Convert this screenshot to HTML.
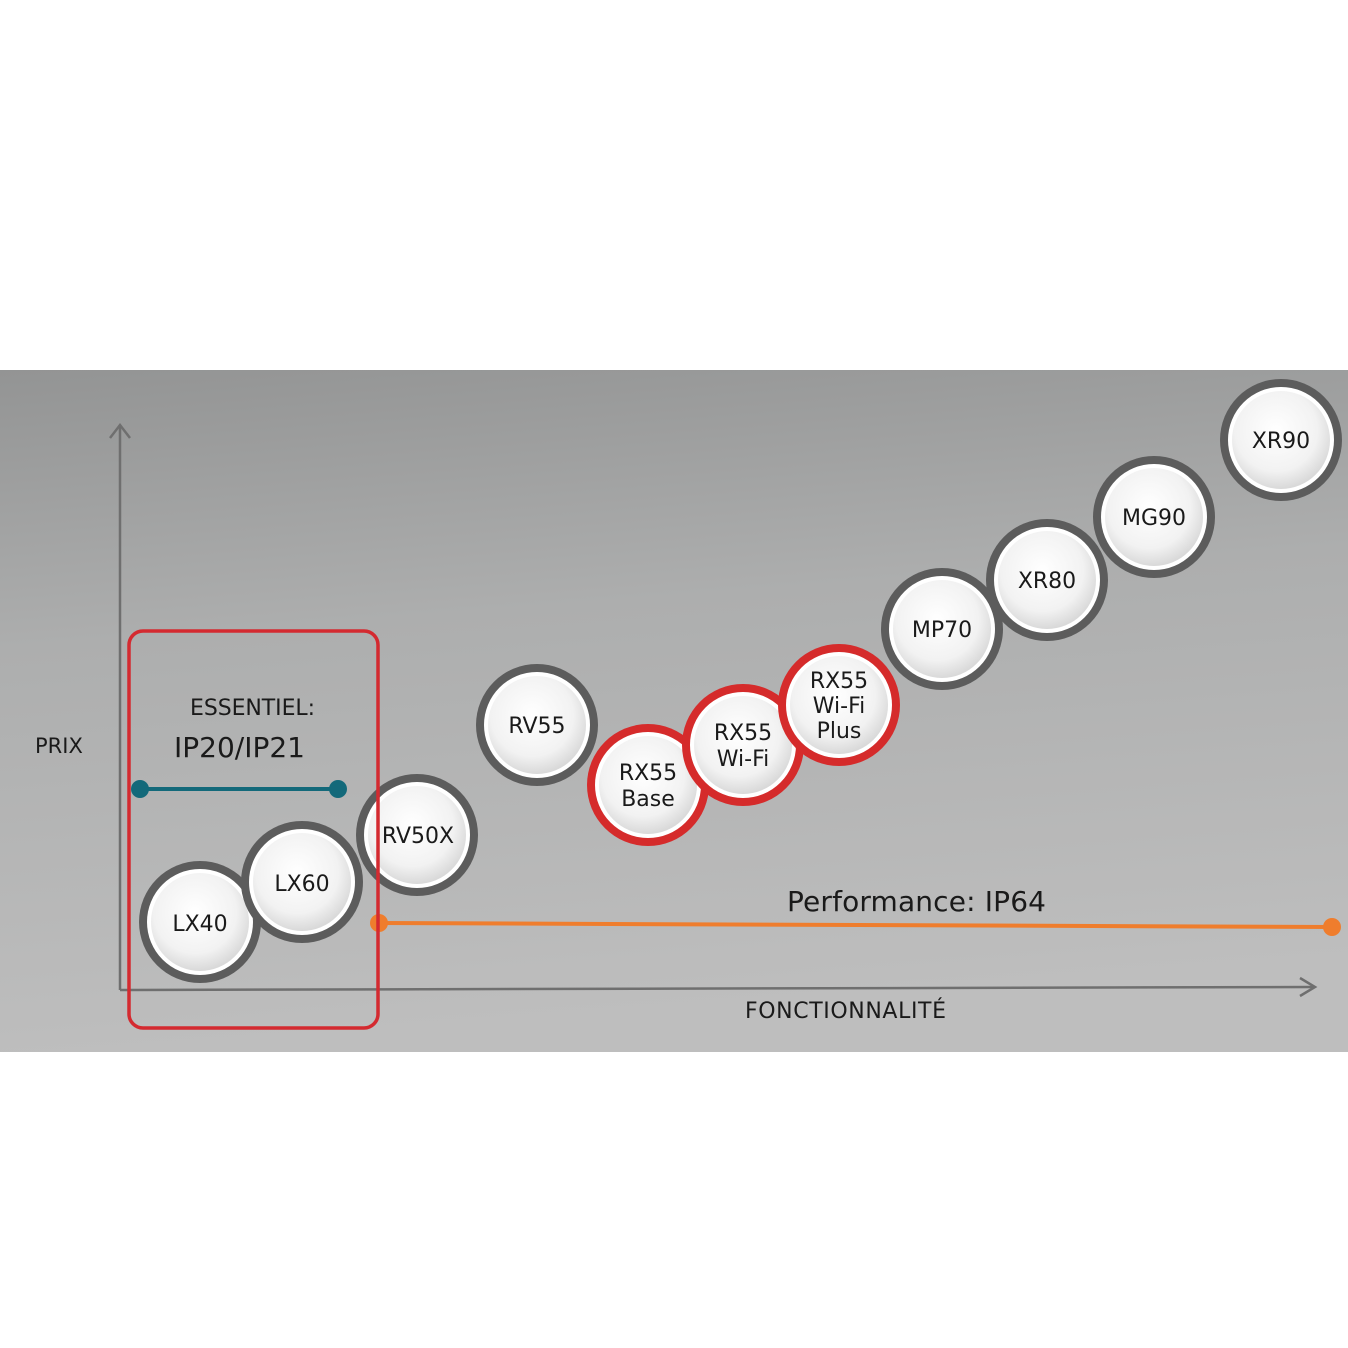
<!DOCTYPE html>
<html><head><meta charset="utf-8"><style>
html,body{margin:0;padding:0;background:#fff;}
svg{display:block;}
text{font-family:"DejaVu Sans","Liberation Sans",sans-serif;fill:#1a1a1a;}
</style></head><body>
<svg width="1348" height="1348" viewBox="0 0 1348 1348" xmlns="http://www.w3.org/2000/svg">
<defs>
<linearGradient id="bg" x1="0" y1="0" x2="0.15" y2="1">
<stop offset="0" stop-color="#939494"/>
<stop offset="0.4" stop-color="#adaeae"/>
<stop offset="1" stop-color="#bebebe"/>
</linearGradient>
<radialGradient id="inner" cx="0.45" cy="0.4" r="0.6">
<stop offset="0" stop-color="#ffffff"/>
<stop offset="0.7" stop-color="#f2f2f2"/>
<stop offset="1" stop-color="#d9d9d9"/>
</radialGradient>
<g id="c"><circle r="61" fill="#5c5c5c"/><circle r="53" fill="#ffffff"/><circle r="49" fill="url(#inner)"/></g>
<g id="r"><circle r="61" fill="#d52b2b"/><circle r="53" fill="#ffffff"/><circle r="49" fill="url(#inner)"/></g>
</defs>
<rect x="0" y="370" width="1348" height="682" fill="url(#bg)"/>
<line x1="120" y1="990" x2="120" y2="425" stroke="#6f6f6f" stroke-width="2.5"/>
<polyline points="110,438 120,425 130,438" fill="none" stroke="#6f6f6f" stroke-width="2.5"/>
<line x1="120" y1="990" x2="1315" y2="987" stroke="#6f6f6f" stroke-width="2.5"/>
<polyline points="1300,978 1315,987 1300,996" fill="none" stroke="#6f6f6f" stroke-width="2.5"/>
<line x1="379" y1="923" x2="1332" y2="927" stroke="#ef7d2d" stroke-width="4"/>
<circle cx="379" cy="923" r="9" fill="#ef7d2d"/>
<circle cx="1332" cy="927" r="9" fill="#ef7d2d"/>
<line x1="140" y1="789" x2="338" y2="789" stroke="#13697a" stroke-width="4"/>
<circle cx="140" cy="789" r="9" fill="#13697a"/>
<circle cx="338" cy="789" r="9" fill="#13697a"/>
<use href="#c" x="1281" y="440"/>
<use href="#c" x="1154" y="517"/>
<use href="#c" x="1047" y="580"/>
<use href="#c" x="942" y="629"/>
<use href="#c" x="537" y="725"/>
<use href="#r" x="648" y="785"/>
<use href="#r" x="743" y="745"/>
<use href="#r" x="839" y="705"/>
<use href="#c" x="417" y="835"/>
<use href="#c" x="200" y="922"/>
<use href="#c" x="302" y="882"/>
<g font-size="22" text-anchor="middle">
<text x="1281" y="448">XR90</text>
<text x="1154" y="525">MG90</text>
<text x="1047" y="588">XR80</text>
<text x="942" y="637">MP70</text>
<text x="537" y="733">RV55</text>
<text x="648" y="780">RX55</text>
<text x="648" y="806">Base</text>
<text x="743" y="740">RX55</text>
<text x="743" y="766">Wi-Fi</text>
<text x="839" y="688">RX55</text>
<text x="839" y="713">Wi-Fi</text>
<text x="839" y="738">Plus</text>
<text x="418" y="843">RV50X</text>
<text x="200" y="931">LX40</text>
<text x="302" y="891">LX60</text>
</g>
<rect x="129" y="631" width="249" height="397" rx="14" fill="none" stroke="#d42a30" stroke-width="3.5"/>
<text x="35" y="753" font-size="21">PRIX</text>
<text x="190" y="715" font-size="22" textLength="125">ESSENTIEL:</text>
<text x="174" y="757" font-size="28">IP20/IP21</text>
<text x="787" y="911" font-size="28" textLength="259">Performance: IP64</text>
<text x="745" y="1018" font-size="22" textLength="201">FONCTIONNALITÉ</text>
</svg>
</body></html>
